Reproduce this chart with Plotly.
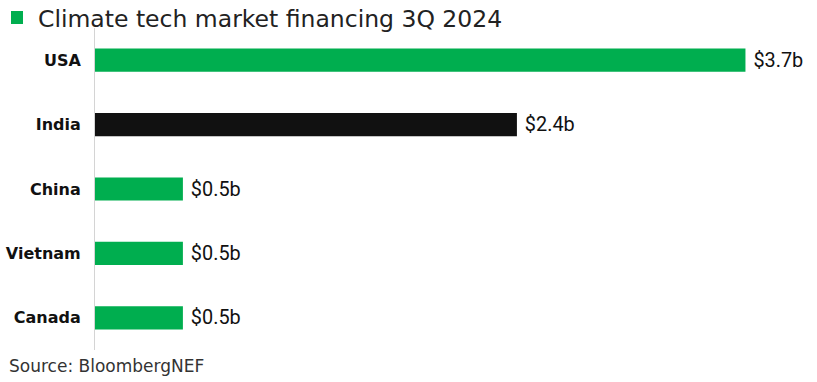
import plotly.graph_objects as go

countries = ["USA", "India", "China", "Vietnam", "Canada"]
values = [3.7, 2.4, 0.5, 0.5, 0.5]
labels = ["$3.7b", "$2.4b", "$0.5b", "$0.5b", "$0.5b"]
colors = ["#00AE4F", "#111111", "#00AE4F", "#00AE4F", "#00AE4F"]

W, H = 817, 382
L, R, T, B = 95, 27, 28, 32
pw, ph = W - L - R, H - T - B

def px(x):
    return (x - L) / pw

def py(y):
    return (H - B - y) / ph

fig = go.Figure(go.Bar(
    y=countries, x=values, orientation="h",
    marker=dict(color=colors, line=dict(width=0)),
    width=0.36,
    text=labels, textposition="outside",
    texttemplate=" %{text}",
    textfont=dict(family="Liberation Sans Narrow, Roboto", size=24, color="#111111"),
    cliponaxis=False,
    hoverinfo="skip",
))

fig.update_layout(
    width=W, height=H,
    margin=dict(l=L, r=R, t=T, b=B, autoexpand=False),
    plot_bgcolor="white", paper_bgcolor="white",
    showlegend=False,
    xaxis=dict(range=[0, pw / 175.8], visible=False, fixedrange=True, automargin=False),
    yaxis=dict(autorange="reversed", showline=True, linecolor="#d4d4d4", linewidth=1,
               ticks="", ticklabelstandoff=10, showgrid=False, automargin=False,
               fixedrange=True,
               tickfont=dict(family="DejaVu Sans", size=16, color="#111111", weight="bold")),
    font=dict(family="DejaVu Sans"),
    shapes=[dict(type="rect", xref="paper", yref="paper",
                 x0=px(11), x1=px(23), y0=py(24), y1=py(11),
                 fillcolor="#00AE4F", line=dict(width=0))],
    annotations=[
        dict(text="Climate tech market financing 3Q 2024", xref="paper", yref="paper",
             x=px(36), y=py(19), xanchor="left", yanchor="middle", showarrow=False,
             font=dict(family="DejaVu Sans", size=23.5, color="#222222")),
        dict(text="Source: BloombergNEF", xref="paper", yref="paper",
             x=px(7), y=py(366), xanchor="left", yanchor="middle", showarrow=False,
             font=dict(family="DejaVu Sans", size=17, color="#333333")),
    ],
)

fig.write_html("out.html", config={"displayModeBar": False},
               post_script="document.body.style.margin='0';")
